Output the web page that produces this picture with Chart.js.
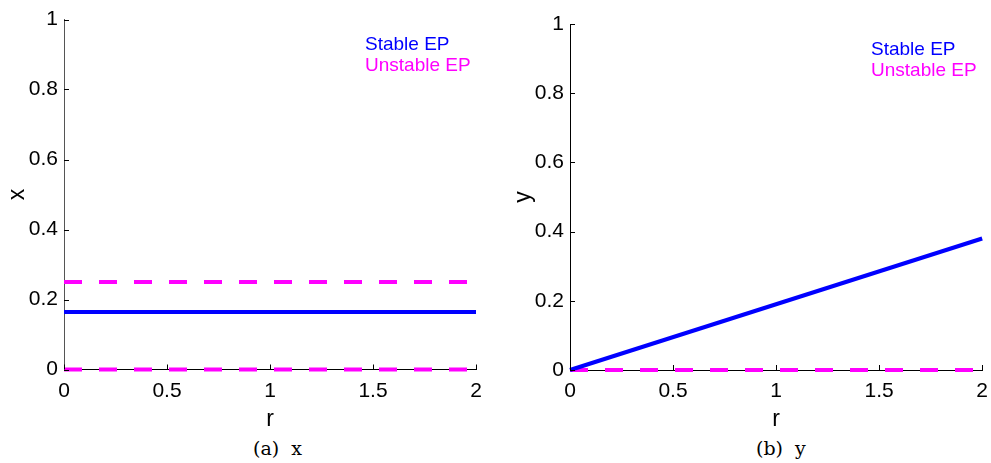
<!DOCTYPE html>
<html>
<head>
<meta charset="utf-8">
<script src="https://cdn.jsdelivr.net/npm/chart.js@4.4.1/dist/chart.umd.min.js"></script>
<style>
  body { margin: 0; background: #fff; width: 991px; height: 463px; position: relative; overflow: hidden; }
  canvas { position: absolute; top: 0; }
  #cLeft { left: 0; }
  #cRight { left: 506px; }
  .leg { position: absolute; font-family: "Liberation Sans", Arial, sans-serif; font-size: 19px; line-height: 21px; white-space: nowrap; }
  .cap { position: absolute; top: 437px; font-family: "DejaVu Serif", "Liberation Serif", serif; font-size: 19px; white-space: nowrap; }
</style>
</head>
<body>
<canvas id="cLeft" width="495" height="435"></canvas>
<canvas id="cRight" width="491" height="435"></canvas>

<div class="leg" style="left:365px; top:33px; color:#0000ff;">Stable EP</div>
<div class="leg" style="left:365px; top:54px; color:#ff00ff;">Unstable EP</div>
<div class="leg" style="left:871px; top:38px; color:#0000ff;">Stable EP</div>
<div class="leg" style="left:871px; top:59px; color:#ff00ff;">Unstable EP</div>

<div class="cap" style="left:253px;">(a)&nbsp; x</div>
<div class="cap" style="left:756px;">(b)&nbsp; y</div>

<script>
// data
const rValues = [0, 2];
const xStable = [0.164, 0.164];
const xUnstableHigh = [0.25, 0.25];
const xUnstableLow = [0, 0];
const yStable = [0, 0.38];
const yUnstable = [0, 0];

const rTicks = [0, 0.5, 1, 1.5, 2];
const rTickLabels = ['0', '0.5', '1', '1.5', '2'];
const valTicks = [0, 0.2, 0.4, 0.6, 0.8, 1];
const valTickLabels = ['0', '0.2', '0.4', '0.6', '0.8', '1'];

const BLUE = '#0000ff';
const MAGENTA = '#ff00ff';
const TICK_FONT = { family: 'Liberation Sans, Arial, sans-serif', size: 21 };
const TITLE_FONT = { family: 'Liberation Sans, Arial, sans-serif', size: 23 };

// inward tick marks, matlab style
const innerTicks = {
    id: 'innerTicks',
    afterDraw(chart) {
        const ctx = chart.ctx;
        const xs = chart.scales.x, ys = chart.scales.y;
        const area = chart.chartArea;
        ctx.save();
        ctx.strokeStyle = '#000';
        ctx.lineWidth = 1;
        ctx.beginPath();
        rTicks.forEach(v => {
            const px = Math.round(xs.getPixelForValue(v)) + 0.5;
            ctx.moveTo(px, area.bottom);
            ctx.lineTo(px, area.bottom - 5);
        });
        valTicks.forEach(v => {
            const py = Math.round(ys.getPixelForValue(v)) + 0.5;
            ctx.moveTo(area.left, py);
            ctx.lineTo(area.left + 5, py);
        });
        ctx.stroke();
        ctx.restore();
    }
};

function toPoints(xs, ys) {
    return xs.map((x, i) => ({ x: x, y: ys[i] }));
}

function makeChart(id, datasets, opts) {
    return new Chart(document.getElementById(id), {
        type: 'line',
        data: { datasets: datasets },
        options: {
            responsive: false,
            animation: false,
            devicePixelRatio: 1,
            layout: { padding: { top: opts.top, right: opts.right, left: 0, bottom: 0 } },
            plugins: { legend: { display: false }, tooltip: { enabled: false } },
            elements: { point: { radius: 0 } },
            scales: {
                x: {
                    type: 'linear', min: 0, max: 2,
                    afterBuildTicks: s => { s.ticks = rTicks.map(v => ({ value: v })); },
                    afterFit: s => { s.height = 435 - opts.bottom; },
                    grid: { display: false, drawTicks: false },
                    border: { display: true, color: '#000', width: 1 },
                    ticks: { color: '#000', font: TICK_FONT, padding: 9, maxRotation: 0,
                             callback: (v, i) => rTickLabels[i] },
                    title: { display: true, text: 'r', color: '#000', font: TITLE_FONT, padding: { top: 4, bottom: 2 } }
                },
                y: {
                    type: 'linear', min: 0, max: 1,
                    afterBuildTicks: s => { s.ticks = valTicks.map(v => ({ value: v })); },
                    afterFit: s => { s.width = 64; },
                    grid: { display: false, drawTicks: false },
                    border: { display: true, color: opts.yAxisColor, width: 1 },
                    ticks: { color: '#000', font: TICK_FONT, padding: 6,
                             callback: (v, i) => valTickLabels[i] },
                    title: { display: true, text: opts.yTitle, color: '#000', font: TITLE_FONT, padding: { top: 4, bottom: 4 } }
                }
            }
        },
        plugins: [innerTicks]
    });
}

function solid(data) {
    return { data: data, borderColor: BLUE, borderWidth: 4, fill: false, clip: false, tension: 0 };
}
function dashed(data) {
    return { data: data, borderColor: MAGENTA, borderWidth: 4, borderDash: [18, 17], fill: false, clip: false, tension: 0 };
}

makeChart('cLeft', [
    solid(toPoints(rValues, xStable)),
    dashed(toPoints(rValues, xUnstableHigh)),
    dashed(toPoints(rValues, xUnstableLow))
], { top: 19.5, right: 19, bottom: 369.5, yTitle: 'x', yAxisColor: '#555' });

makeChart('cRight', [
    solid(toPoints(rValues, yStable)),
    dashed(toPoints(rValues, yUnstable))
], { top: 24, right: 10, bottom: 370, yTitle: 'y', yAxisColor: '#000' });
</script>
</body>
</html>
